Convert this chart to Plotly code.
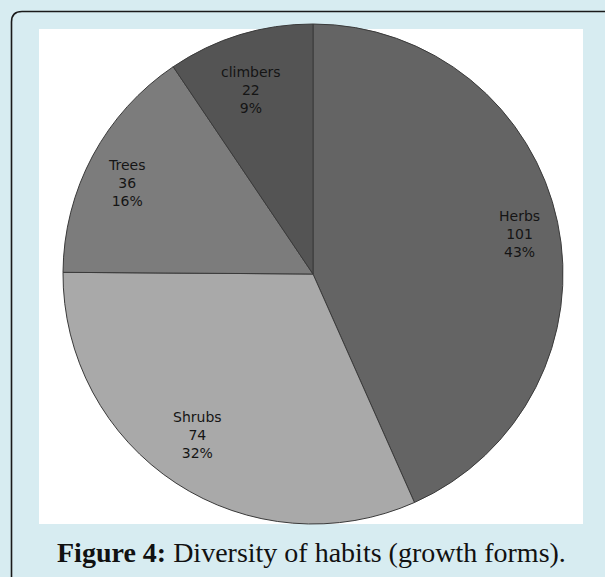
import numpy as np
import plotly.graph_objects as go

# Data
labels = ["Herbs", "Shrubs", "Trees", "climbers"]
values = [101, 74, 36, 22]
pct_labels = ["43%", "32%", "16%", "9%"]
colors = ["#646464", "#a9a9a9", "#7c7c7c", "#545454"]

W, H = 605, 577

def px(x):
    return x / W

def py(y):
    return 1 - y / H

cx, cy, r = 313, 274, 250

fig = go.Figure()
fig.add_trace(go.Pie(
    labels=labels,
    values=values,
    textinfo="none",
    marker=dict(colors=colors, line=dict(color="#3a3a3a", width=1)),
    sort=False,
    direction="clockwise",
    rotation=0,
    hoverinfo="skip",
    showlegend=False,
    domain=dict(x=[px(cx - r), px(cx + r)], y=[py(cy + r), py(cy - r)]),
))

# data labels placed along each slice's mid-angle (clockwise from 12 o'clock)
vals = np.array(values, dtype=float)
ends = np.cumsum(vals) / vals.sum() * 2 * np.pi
mids = ends - vals / vals.sum() * np.pi
rx, ry, frac = 261, 238, 0.81
annotations = []
for lab, v, p, a in zip(labels, values, pct_labels, mids):
    lx = cx + frac * rx * np.sin(a)
    ly = cy - frac * ry * np.cos(a)
    annotations.append(dict(
        text=f"{lab}<br>{v}<br>{p}",
        xref="paper", yref="paper", x=px(lx), y=py(ly),
        xanchor="center", yanchor="middle", showarrow=False, align="center",
        font=dict(family="DejaVu Sans, sans-serif", size=14, color="#151515"),
    ))

annotations.append(dict(
    text="<b>Figure 4:</b> Diversity of habits (growth forms).",
    xref="paper", yref="paper", x=px(311), y=py(552),
    xanchor="center", yanchor="middle", showarrow=False,
    font=dict(family="Liberation Serif, DejaVu Serif, serif", size=28, color="#111111"),
))

shapes = [
    # white chart area
    dict(type="rect", xref="paper", yref="paper", layer="below",
         x0=px(39), x1=px(583), y0=py(524), y1=py(29),
         fillcolor="white", line=dict(width=0)),
    # rounded frame border (top-left)
    dict(type="path", xref="paper", yref="paper", layer="below",
         path=f"M {px(11.5)},{py(600)} L {px(11.5)},{py(22)} Q {px(11.5)},{py(11.5)} {px(22)},{py(11.5)} L {px(620)},{py(11.5)}",
         line=dict(color="#1a1a1a", width=1.6)),
]

fig.update_layout(
    width=W, height=H,
    margin=dict(l=0, r=0, t=0, b=0),
    paper_bgcolor="#d7ecf1",
    plot_bgcolor="#d7ecf1",
    shapes=shapes,
    annotations=annotations,
)

fig.write_html("out.html")
